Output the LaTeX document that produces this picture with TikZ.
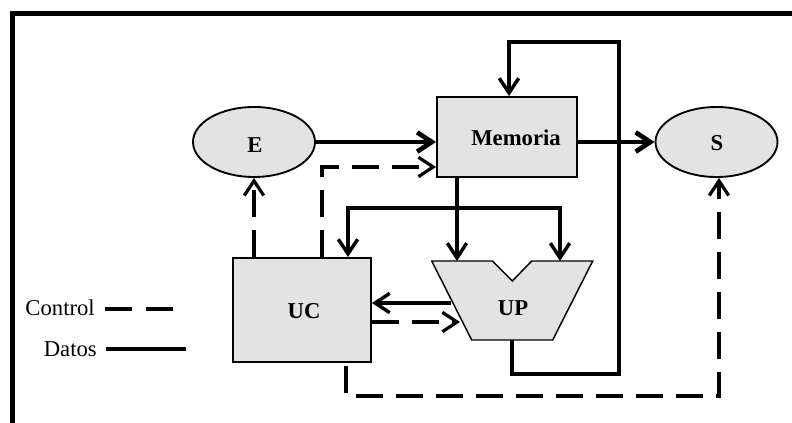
\documentclass[tikz,border=0pt]{standalone}
\usepackage{fontspec}
\setmainfont{Liberation Serif}
\usetikzlibrary{arrows.meta,shapes.geometric}
\begin{document}
\begin{tikzpicture}[x=0.75pt,y=-0.75pt,
  font=\fontsize{17}{20}\selectfont,
  blk/.style={draw, line width=1.4pt, fill=black!11, inner sep=0pt},
  ell/.style={blk, ellipse, minimum width=91.5pt, minimum height=52.5pt},
  lbl/.style={font=\fontsize{17}{20}\selectfont\bfseries, inner sep=0pt},
  tip/.style={-{Straight Barb[length=11pt,width=14.5pt]}},
  data/.style={line width=2.6pt},
  bus/.style={line width=3.5pt},
  ctrl/.style={line width=2.4pt, dash pattern=on 20pt off 10pt},
]
\useasboundingbox (0,0) rectangle (792,423);
\clip (0,0) rectangle (792,423);

% outer frame (runs off the page to the right and bottom)
\draw[line width=3.75pt] (12.5,440) -- (12.5,13.5) -- (800,13.5);

% blocks
\node[ell] (E) at (254,142) {};
\node[lbl] (Etxt) at (255,145) {E};
\node[ell] (S) at (716.5,142) {};
\node[lbl] (Stxt) at (717,143) {S};
\node[blk, minimum width=105pt, minimum height=60pt] (mem) at (507,137) {};
\node[lbl] (memtxt) at (516,138) {Memoria};
\node[blk, minimum width=103.5pt, minimum height=78pt] (uc) at (302,310) {};
\node[lbl] (uctxt) at (304,311) {UC};

% processing unit outline
\coordinate (upTL) at (431.7,261);
\coordinate (upN1) at (492.3,261);
\coordinate (upV)  at (512.3,281);
\coordinate (upN2) at (531.7,261);
\coordinate (upTR) at (592.7,261);
\coordinate (upBR) at (552.7,340);
\coordinate (upBL) at (471.7,340);
\draw[line width=1.1pt, fill=black!11] (upTL) -- (upN1) -- (upV) -- (upN2) -- (upTR) -- (upBR) -- (upBL) -- cycle;
\node[lbl] (up) at (513,308) {UP};

% route points
\coordinate (jl) at (348,208);
\coordinate (jm) at (457,208);
\coordinate (jr) at (560,208);
\coordinate (upInM) at (457,261);
\coordinate (upInR) at (560,261);
\coordinate (upOutL) at (451,303);
\coordinate (upInL) at (460,322);
\coordinate (upOut) at (512,340);
\coordinate (lp1) at (512,374);
\coordinate (lp2) at (619,374);
\coordinate (lp3) at (619,42);
\coordinate (lp4) at (509,42);
\coordinate (c1) at (322,167);
\coordinate (c2) at (346,366);
\coordinate (c3) at (346,396);
\coordinate (c4) at (719,396);
\coordinate (y303) at (0,303);
\coordinate (y322) at (0,322);

% data paths
\draw[bus, tip] (E.east) -- (E.east -| mem.west);
\draw[bus, tip] (S.west -| mem.east) -- (S.west);
\draw[data, tip] (mem.south -| jm) -- (upInM);
\draw[data, {Straight Barb[length=11pt,width=14.5pt]}-{Straight Barb[length=11pt,width=14.5pt]}]
  (uc.north -| jl) -- (jl) -- (jr) -- (upInR);
\draw[data, tip] (upOutL) -- (uc.east |- y303);
\draw[data, tip] (upOut) -- (lp1) -- (lp2) -- (lp3) -- (lp4) -- (mem.north -| lp4);

% control paths
\draw[ctrl, tip] (uc.north -| E.south) -- (E.south);
\draw[ctrl, tip] (uc.north -| c1) -- (c1) -- (c1 -| mem.west);
\draw[ctrl, tip] (uc.east |- y322) -- (upInL);
\draw[ctrl, tip] (c2) -- (c3) -- (c4) -- (S.south -| c4);

% legend
\node[anchor=base east, inner sep=0pt] (lgC) at (95,316) {Control};
\node[anchor=base east, inner sep=0pt] (lgD) at (97,357) {Datos};
\coordinate (lc1) at (105,309);
\coordinate (lc2) at (173,309);
\coordinate (ld1) at (106,349);
\coordinate (ld2) at (186,349);
\draw[ctrl, dash pattern=on 20.5pt off 10pt] (lc1) -- (lc2);
\draw[line width=3pt] (ld1) -- (ld2);
\end{tikzpicture}
\end{document}
